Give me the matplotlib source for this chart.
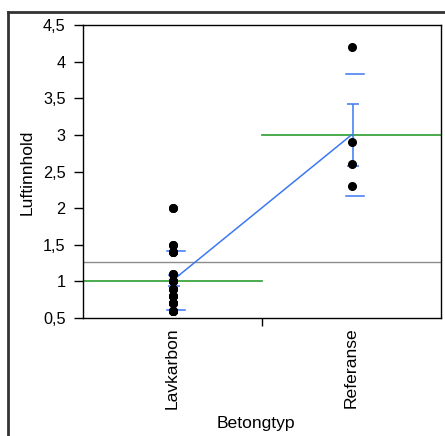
"""Oneway plot: Luftinnhold by Betongtyp, with means, error bars and std dev lines."""

import numpy as np
import matplotlib
matplotlib.use('Agg')
import matplotlib.pyplot as plt
from matplotlib.lines import Line2D

plt.rcParams['font.family'] = ['Liberation Sans', 'DejaVu Sans']

groups = ['Lavkarbon', 'Referanse']
lavkarbon = [2.0, 2.0, 1.5, 1.5, 1.4, 1.4, 1.4, 1.1, 1.1, 1.0, 1.0, 1.0,
             0.9, 0.9, 0.9, 0.8, 0.8, 0.8, 0.7, 0.7, 0.7, 0.7,
             0.6, 0.6, 0.6, 0.6, 0.6]
referanse = [4.2, 2.9, 2.6, 2.3]
y_ticks = [0.5, 1, 1.5, 2, 2.5, 3, 3.5, 4, 4.5]

BLUE = '#3b78f2'
GREEN = '#2e9e30'
GREY = '#8c8c8c'

data = [np.array(lavkarbon), np.array(referanse)]
centers = [0.5, 1.5]
means = [d.mean() for d in data]
sds = [d.std(ddof=1) for d in data]
ses = [s / np.sqrt(len(d)) for s, d in zip(sds, data)]
grand_mean = np.concatenate(data).mean()

fig = plt.figure(figsize=(4.45, 4.36), dpi=100)
ax = fig.add_axes([83 / 445, 1 - 318 / 436, 358 / 445, 293 / 436])

# grand mean and group means
ax.axhline(grand_mean, color=GREY, lw=1.0, zorder=1)
for i, m in enumerate(means):
    ax.plot([i, i + 1], [m, m], color=GREEN, lw=1.2, zorder=2)

# line connecting means
ax.plot(centers, means, color=BLUE, lw=1.1, zorder=3)

# error bars (mean +/- SE)
for c, m, se in zip(centers, means, ses):
    ax.errorbar(c + 0.008, m, yerr=se, color=BLUE, lw=1.1, capsize=4,
                capthick=1.1, zorder=3)

# std dev lines
for c, m, s in zip(centers, means, sds):
    for v in (m - s, m + s):
        ax.plot([c - 0.03, c + 0.07], [v, v], color=BLUE, lw=1.1, zorder=3)

# points
for c, d in zip(centers, data):
    ax.plot(np.full(len(d), c), d, 'o', color='black', ms=5.5, zorder=4)

ax.set_xlim(0, 2)
ax.set_ylim(0.5, 4.5)
ax.set_yticks(y_ticks)
ax.set_yticklabels([f'{v:g}'.replace('.', ',') for v in y_ticks], fontsize=11.7)
ax.set_xticks([1])
ax.set_xticklabels([''])
ax.tick_params(axis='y', direction='out', length=6.5, width=1, pad=6)
ax.tick_params(axis='x', direction='out', length=6, width=1)
for c, g in zip(centers, groups):
    ax.annotate(g, xy=(c, 0), xycoords=('data', 'axes fraction'),
                xytext=(0, -7), textcoords='offset points',
                rotation=90, ha='center', va='top', fontsize=12.6)
for sp in ax.spines.values():
    sp.set_linewidth(1.0)

fig.text(27 / 445, 1 - 172 / 436, 'Luftinnhold', rotation=90, ha='center',
         va='center', fontsize=12.6)
fig.text(256 / 445, 1 - 423 / 436, 'Betongtyp', ha='center', va='center',
         fontsize=12.6)

# outer frame
frame_kw = dict(color='#333333', lw=2.0, transform=fig.transFigure)
fig.add_artist(Line2D([8 / 445, 1.01], [1 - 12 / 436] * 2, **frame_kw))
fig.add_artist(Line2D([8 / 445] * 2, [-0.01, 1 - 12 / 436], **frame_kw))

fig.savefig('out.png', dpi=100)
